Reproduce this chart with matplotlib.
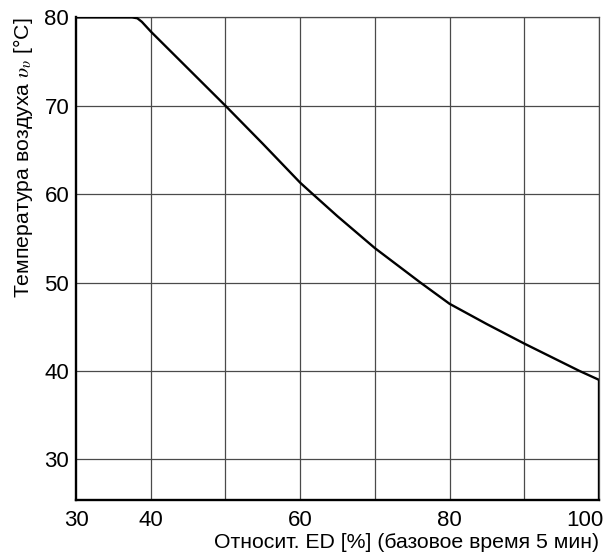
import numpy as np
import matplotlib
matplotlib.use("Agg")
import matplotlib.pyplot as plt
import matplotlib.transforms as mtransforms

# Air temperature vs relative duty cycle
ed_pct = [30, 37.5, 38.2, 38.8, 40, 45, 50, 55, 60, 61.7, 65, 70, 76.1, 80, 85, 90, 97.4, 100]
temp_c = [80, 80, 79.9, 79.5, 78.4, 74.2, 70, 65.7, 61.3, 60, 57.5, 53.9, 50, 47.6, 45.3, 43.1, 40, 39.0]

x_ticks = [30, 40, 60, 80, 100]
y_ticks = [30, 40, 50, 60, 70, 80]
x_grid = [40, 50, 60, 70, 80, 90, 100]

plt.rcParams['font.family'] = ['Liberation Sans', 'DejaVu Sans']
plt.rcParams['mathtext.fontset'] = 'stix'

fig = plt.figure(figsize=(6.08, 5.52), dpi=100)
ax = fig.add_axes([0.1252, 0.0942, 0.8598, 0.8743])

ax.set_xlim(30, 100)
ax.set_ylim(25.4, 80)

grid_col = '#4a4a4a'
for gx in x_grid:
    ax.axvline(gx, color=grid_col, lw=0.9, zorder=1)
for gy in y_ticks:
    ax.axhline(gy, color=grid_col, lw=0.9, zorder=1)

ax.plot(ed_pct, temp_c, color='black', lw=1.7, zorder=3, solid_capstyle='butt')
# vertical drop at the right end down to the axis
ax.vlines(ed_pct[-1], ax.get_ylim()[0], temp_c[-1], color='black', lw=1.7, zorder=3)

for side in ['top', 'right']:
    ax.spines[side].set_linewidth(0.9)
    ax.spines[side].set_color(grid_col)
for side in ['left', 'bottom']:
    ax.spines[side].set_linewidth(1.7)
    ax.spines[side].set_color('black')

ax.set_xticks(x_ticks)
ax.set_yticks(y_ticks)
ax.tick_params(length=0, labelsize=16, pad=5)
ax.tick_params(axis='x', pad=7)

# pull the "100" label inside the figure like the reference
last = ax.get_xticklabels()[-1]
last.set_transform(last.get_transform() + mtransforms.ScaledTranslation(-14 / 100, 0, fig.dpi_scale_trans))

ax.set_xlabel('Относит. ED [%] (базовое время 5 мин)', fontsize=15.3, loc='right', labelpad=1.5)
ax.set_ylabel(r'Температура воздуха $\upsilon_{\upsilon}$ [°C]', fontsize=15.3, loc='top', labelpad=7)

fig.savefig('out.png', dpi=100)
